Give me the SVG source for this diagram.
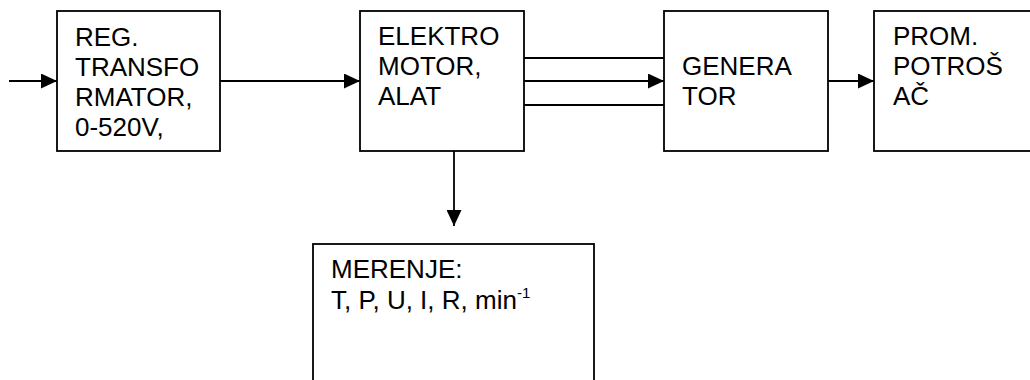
<svg xmlns="http://www.w3.org/2000/svg" width="1030" height="380" viewBox="0 0 1030 380">
<style>
.box{fill:#fff;stroke:#000;stroke-width:1.8}
.ln{fill:none;stroke:#000;stroke-width:1.8}
text{font-family:"Liberation Sans",Arial,sans-serif;font-size:26px;fill:#000}
.sup{font-size:15px}
</style>
<defs>
<marker id="ah" markerWidth="16" markerHeight="15" refX="16" refY="7.5" orient="auto" markerUnits="userSpaceOnUse">
<path d="M0,0 L16,7.5 L0,15 Z" fill="#000"/>
</marker>
</defs>
<rect width="1030" height="380" fill="#fff"/>
<g id="connectors">
<line class="ln" x1="9" y1="81" x2="57" y2="81" marker-end="url(#ah)"/>
<line class="ln" x1="220" y1="81" x2="360" y2="81" marker-end="url(#ah)"/>
<line class="ln" x1="524" y1="58" x2="664" y2="58"/>
<line class="ln" x1="524" y1="81" x2="664" y2="81" marker-end="url(#ah)"/>
<line class="ln" x1="524" y1="105" x2="664" y2="105"/>
<line class="ln" x1="828" y1="81" x2="874" y2="81" marker-end="url(#ah)"/>
<line class="ln" x1="454" y1="151" x2="454" y2="226" marker-end="url(#ah)"/>
</g>
<g id="node-transformator">
<rect class="box" x="57" y="11" width="163" height="140"/>
<text x="75" y="46">REG.</text>
<text x="75" y="76">TRANSFO</text>
<text x="75" y="106">RMATOR,</text>
<text x="75" y="136">0-520V,</text>
</g>
<g id="node-elektromotor">
<rect class="box" x="360" y="11" width="164" height="140"/>
<text x="378" y="45">ELEKTRO</text>
<text x="378" y="75">MOTOR,</text>
<text x="378" y="105">ALAT</text>
</g>
<g id="node-generator">
<rect class="box" x="664" y="11" width="164" height="140"/>
<text x="682" y="75">GENERA</text>
<text x="682" y="105">TOR</text>
</g>
<g id="node-potrosac">
<rect class="box" x="874" y="11" width="170" height="140"/>
<text x="893" y="45">PROM.</text>
<text x="893" y="75">POTROŠ</text>
<text x="893" y="105">AČ</text>
</g>
<g id="node-merenje">
<rect class="box" x="313" y="244" width="281" height="150"/>
<text x="331" y="278">MERENJE:</text>
<text x="331" y="309">T, P, U, I, R, min<tspan class="sup" dy="-11">-1</tspan></text>
</g>
</svg>
